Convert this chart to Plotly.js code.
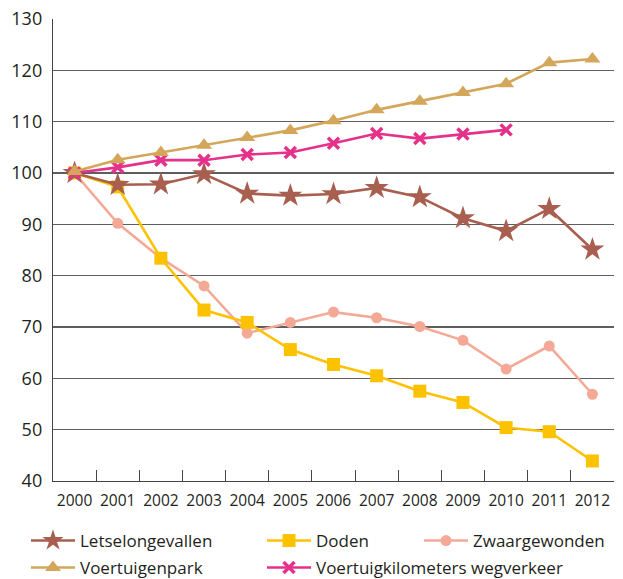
<!DOCTYPE html>
<html>
<head>
<meta charset="utf-8">
<script src="https://cdn.plot.ly/plotly-3.0.1.min.js"></script>
<style>html,body{margin:0;padding:0;background:#fff;}#chart{width:623px;height:579px;}</style>
</head>
<body>
<div id="chart"></div>
<script>
const years = ['2000','2001','2002','2003','2004','2005','2006','2007','2008','2009','2010','2011','2012'];
const letselongevallen = [100, 97.7, 97.8, 99.8, 96.0, 95.6, 95.9, 97.1, 95.3, 91.2, 88.7, 93.0, 85.1];
const doden = [100, 97.3, 83.4, 73.3, 70.9, 65.6, 62.7, 60.5, 57.5, 55.3, 50.4, 49.6, 43.9];
const zwaargewonden = [100, 90.2, 83.4, 78.0, 68.8, 70.9, 72.9, 71.8, 70.1, 67.4, 61.8, 66.3, 56.9];
const voertuigenpark = [100.3, 102.6, 104.0, 105.4, 106.9, 108.3, 110.2, 112.3, 114.0, 115.7, 117.4, 121.5, 122.2];
const voertuigkilometers = [100, 101.1, 102.5, 102.5, 103.6, 104.0, 105.8, 107.7, 106.7, 107.6, 108.4];
const yTicks = [40, 50, 60, 70, 80, 90, 100, 110, 120, 130];

const FONT = 'Open Sans, Noto Sans, DejaVu Sans, sans-serif';
const TXT = '#231f20';

function tr(name, y, color, symbol, size, legend, extra) {
  return {
    type: 'scatter', mode: 'lines+markers', name: name,
    x: years.slice(0, y.length), y: y,
    line: {color: color, width: 2.6},
    marker: Object.assign({symbol: symbol, size: size, color: color}, extra || {}),
    legend: legend
  };
}

const data = [
  tr('Zwaargewonden', zwaargewonden, '#f4a997', 'circle', 11, 'legend3'),
  tr('Doden', doden, '#fcc200', 'square', 13, 'legend2'),
  tr('Letselongevallen', letselongevallen, '#a85f4f', 'star', 18, 'legend'),
  tr('Voertuigkilometers wegverkeer', voertuigkilometers, '#e5318a', 'x-thin', 11, 'legend5', {line: {color: '#e5318a', width: 3.5}}),
  tr('Voertuigenpark', voertuigenpark, '#d4a65a', 'triangle-up', 14, 'legend4')
];

const legendBase = {
  orientation: 'h', xanchor: 'left', yanchor: 'top',
  xref: 'container', yref: 'container',
  font: {family: FONT, size: 17, color: TXT},
  bgcolor: 'rgba(0,0,0,0)', itemwidth: 44
};
const row1 = 0.0967, row2 = 0.0501;
const col1 = 26 / 623, col2 = 262 / 623, col3 = 419 / 623;

const layout = {
  width: 623, height: 579,
  margin: {l: 53, r: 9, t: 19, b: 98},
  paper_bgcolor: '#fff', plot_bgcolor: '#fff',
  showlegend: true,
  font: {family: FONT, color: TXT},
  xaxis: {
    type: 'category', categoryorder: 'array', categoryarray: years,
    tickson: 'boundaries', ticks: 'inside', ticklen: 11, tickwidth: 1, tickcolor: '#444',
    showline: true, linecolor: '#444', linewidth: 1.2,
    showgrid: false, zeroline: false,
    tickangle: 0,
    tickfont: {family: FONT, size: 15.5, color: TXT},
    ticklabelstandoff: 5,
    range: [-0.5, 12.5], fixedrange: true
  },
  yaxis: {
    range: [40, 130], tickvals: yTicks, ticktext: yTicks.map(String),
    showline: true, linecolor: '#444', linewidth: 1.2,
    showgrid: true, gridcolor: '#5e5e5e', gridwidth: 1.2,
    zeroline: false, ticks: '',
    tickfont: {family: FONT, size: 18, color: TXT},
    ticklabelstandoff: 6, fixedrange: true
  },
  legend: Object.assign({}, legendBase, {x: col1, y: row1}),
  legend2: Object.assign({}, legendBase, {x: col2, y: row1}),
  legend3: Object.assign({}, legendBase, {x: col3, y: row1}),
  legend4: Object.assign({}, legendBase, {x: col1, y: row2}),
  legend5: Object.assign({}, legendBase, {x: col2, y: row2})
};

Plotly.newPlot('chart', data, layout, {displayModeBar: false, staticPlot: true});
</script>
</body>
</html>
